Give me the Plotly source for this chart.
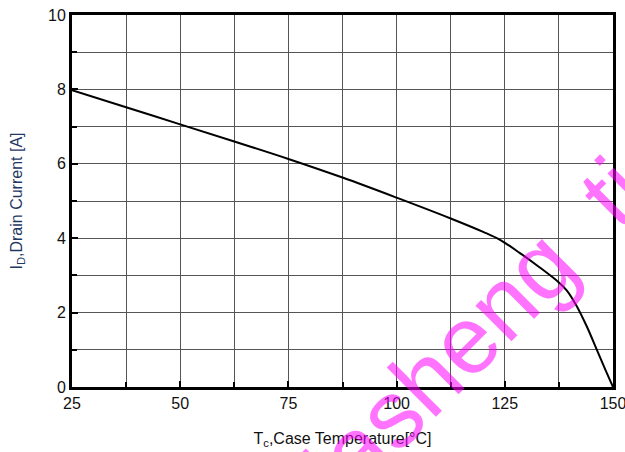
import plotly.graph_objects as go

temps = [25, 37.5, 50, 62.5, 75, 87.5, 100, 112.5, 120, 124, 128.5, 133, 137.3, 139.3, 141.6, 143.9, 146.2, 148.1, 150]
current = [7.98, 7.52, 7.06, 6.60, 6.13, 5.63, 5.09, 4.53, 4.17, 3.95, 3.60, 3.22, 2.83, 2.60, 2.18, 1.64, 1.02, 0.50, 0.0]
x_ticks = [25, 50, 75, 100, 125, 150]
y_ticks = [0, 2, 4, 6, 8, 10]

fig = go.Figure()
fig.add_trace(go.Scatter(x=temps, y=current, mode="lines",
                         line=dict(color="black", width=2, shape="spline", smoothing=1.0),
                         showlegend=False, hoverinfo="skip"))

font = dict(family="Liberation Sans, Arial, sans-serif", size=16, color="#111")
fig.update_xaxes(range=[25, 150], tickvals=x_ticks, ticks="inside", ticklen=6, tickwidth=2,
                 tickcolor="black", showline=True, linewidth=3, linecolor="black", mirror=True,
                 showgrid=True, gridcolor="#555", gridwidth=1, automargin=False,
                 ticklabeloverflow="allow",
                 minor=dict(dtick=12.5, showgrid=True, gridcolor="#555", gridwidth=1,
                            ticks="inside", ticklen=5, tickcolor="black", tickwidth=2),
                 tickfont=font, zeroline=False,
                 title=dict(text="T<sub>c</sub>,Case Temperature[°C]", font=font, standoff=22))
fig.update_yaxes(range=[0, 10], tickvals=y_ticks, ticks="inside", ticklen=6, tickwidth=2,
                 tickcolor="black", showline=True, linewidth=3, linecolor="black", mirror=True,
                 showgrid=True, gridcolor="#555", gridwidth=1, automargin=False,
                 ticklabeloverflow="allow",
                 minor=dict(dtick=1, showgrid=True, gridcolor="#555", gridwidth=1,
                            ticks="inside", ticklen=5, tickcolor="black", tickwidth=2),
                 tickfont=font, zeroline=False,
                 title=dict(text="I<sub>D</sub>,Drain Current [A]",
                            font=dict(family="Liberation Sans, Arial, sans-serif", size=16, color="#1F3864"),
                            standoff=22))

fig.add_annotation(text="jiasheng&nbsp;&nbsp;tj", xref="paper", yref="paper", x=0.73, y=0.13,
                   xanchor="center", yanchor="middle",
                   showarrow=False, textangle=-45,
                   font=dict(family="Liberation Sans, Arial, sans-serif", size=96,
                             color="rgba(255,0,255,0.55)"))

fig.update_layout(width=625, height=452, margin=dict(l=72, r=12, t=15, b=65),
                  paper_bgcolor="white", plot_bgcolor="white")
fig.write_html("out.html", config={"displayModeBar": False},
               post_script="document.body.style.margin='0';")
